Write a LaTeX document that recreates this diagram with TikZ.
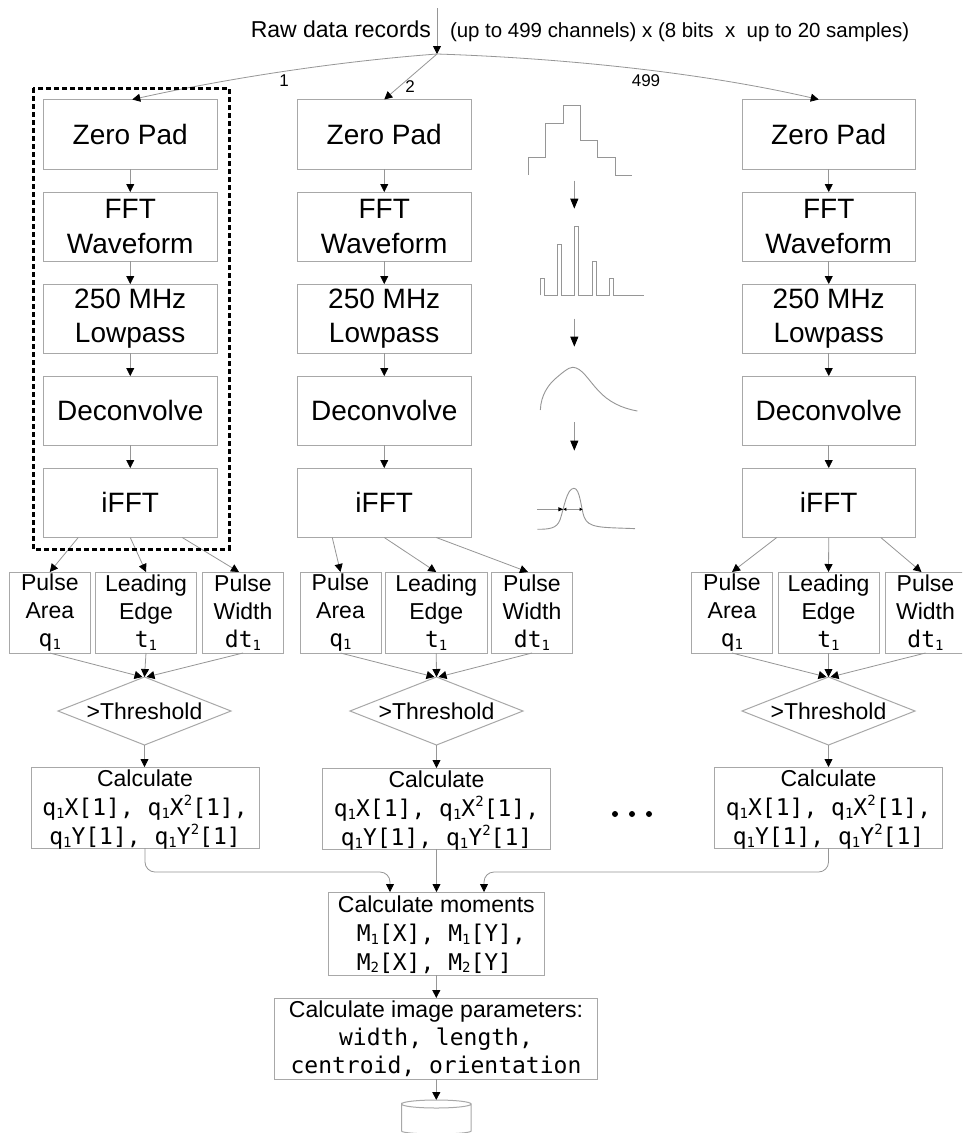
\documentclass[tikz,border=0pt]{standalone}
\usepackage{fontspec}
\setmainfont{Liberation Sans}
\setmonofont{DejaVu Sans Mono}
\usetikzlibrary{arrows.meta,shapes.geometric}
\definecolor{boxline}{HTML}{A8A8A8}
\definecolor{connline}{HTML}{969696}
\newcommand\subn[1]{\raisebox{-0.12em}{\fontsize{14}{14}\selectfont #1}}
\newcommand\supn[1]{\raisebox{0.42em}{\fontsize{14}{14}\selectfont #1}}
\tikzset{
  x=1pt,y=-1pt,
  boxstyle/.style={draw=boxline,line width=1pt,inner sep=0pt,outer sep=0pt,align=center,text=black},
  bigfont/.style={font=\fontsize{28}{34.5}\selectfont},
  midfont/.style={font=\fontsize{23}{28}\selectfont},
  calcfont/.style={font=\fontsize{23}{28.7}\selectfont,inner ysep=-4pt},
  conn/.style={draw=connline,line width=0.8pt,-{Triangle[black,length=8pt,width=8pt]}},
  wave/.style={draw=connline,line width=0.9pt},
  wavearrow/.style={draw=connline,line width=0.9pt,-{Triangle[black,length=10pt,width=8pt]}},
  testshape/.style={diamond,aspect=2.544,draw=boxline,line width=1pt,inner sep=0pt,outer sep=0pt,minimum width=173pt,minimum height=68pt,font=\fontsize{23}{28}\selectfont},
  plainlabel/.style={inner sep=0pt,outer sep=0pt,text=black},
}
% font style, name, x1, y1, x2, y2, text
\newcommand\rectnode[7]{%
  \pgfmathsetmacro\rnw{#5-#3}\pgfmathsetmacro\rnh{#6-#4}%
  \pgfmathsetmacro\rncx{(#3+#5)/2}\pgfmathsetmacro\rncy{(#4+#6)/2}%
  \node[boxstyle,#1,minimum width=\rnw pt,minimum height=\rnh pt] (#2) at (\rncx,\rncy) {#7};}
% name, big left, pa left, le left, le right, pw left, diamond centre, calc left, calc top
\newcommand\chancolumn[9]{%
  \pgfmathsetmacro\bigR{#2+173.5}\pgfmathsetmacro\paR{#3+81}\pgfmathsetmacro\pwR{#6+81}%
  \pgfmathsetmacro\calcR{#8+228}\pgfmathsetmacro\calcB{#9+81}%
  \let\cbigR\bigR \let\cpaR\paR \let\cpwR\pwR \let\ccalcR\calcR \let\ccalcB\calcB
  \rectnode{bigfont}{#1z}{#2}{99.5}{\cbigR}{169.3}{Zero Pad}
  \rectnode{bigfont}{#1f}{#2}{192}{\cbigR}{261}{FFT\\Waveform}
  \rectnode{bigfont}{#1l}{#2}{284}{\cbigR}{353}{250 MHz\\Lowpass}
  \rectnode{bigfont}{#1d}{#2}{376}{\cbigR}{445}{Deconvolve}
  \rectnode{bigfont}{#1i}{#2}{468}{\cbigR}{537.5}{iFFT}
  \rectnode{midfont}{#1pa}{#3}{572}{\cpaR}{653}{Pulse\\Area\\\texttt{q\subn{1}}}
  \rectnode{midfont}{#1le}{#4}{572}{#5}{653}{Leading\\Edge\\\texttt{t\subn{1}}}
  \rectnode{midfont}{#1pw}{#6}{572}{\cpwR}{653}{Pulse\\Width\\\texttt{dt\subn{1}}}
  \node[testshape] (#1th) at (#7,711) {>Threshold};
  \rectnode{calcfont}{#1c}{#8}{#9}{\ccalcR}{\ccalcB}{\rule{0pt}{21pt}Calculate\\\texttt{q\subn{1}X[1], q\subn{1}X\supn{2}[1],}\\\texttt{q\subn{1}Y[1], q\subn{1}Y\supn{2}[1]}}
  \draw[conn] (#1z) -- (#1f);
  \draw[conn] (#1f) -- (#1l);
  \draw[conn] (#1l) -- (#1d);
  \draw[conn] (#1d) -- (#1i);
  \draw[conn] ([xshift=-52pt]#1i.south) -- (#1pa.north);
  \draw[conn] (#1i.south) -- (#1le.north);
  \draw[conn] ([xshift=52pt]#1i.south) -- ([xshift=-4pt]#1pw.north);
  \draw[conn] (#1pa.south) -- ([xshift=-2pt]#1th.north);
  \draw[conn] (#1le.south) -- (#1th.north);
  \draw[conn] (#1pw.south) -- ([xshift=2pt]#1th.north);
  \draw[conn] (#1th.south) -- (#1c.north-|#1th.south);
}
\begin{document}
\begin{tikzpicture}
\clip (0,0) rectangle (962,1133);
\fill[white] (0,0) rectangle (962,1133);

\chancolumn{a}{43.5}{9.3}{95.5}{196.5}{202.5}{144.5}{31}{767}
\chancolumn{b}{297.5}{300}{385.5}{487}{491.5}{436.5}{322.5}{768}
\chancolumn{c}{742}{691.5}{778}{879}{885}{828.5}{714.5}{767}

% input
\coordinate (rawtop) at (437,8);
\coordinate (hub) at (437,54);
\draw[conn] (rawtop) -- (hub);
\node[plainlabel,anchor=base east,font=\fontsize{23}{28}\selectfont] (rawlabel) at (431,37.7) {Raw data records};
\node[plainlabel,anchor=base west,font=\fontsize{20.45}{24}\selectfont] (dimlabel) at (450,37.7) {(up to 499 channels) x (8 bits~~x~~up to 20 samples)};
\draw[conn] (hub) .. controls (330,62) and (220,80) .. ([xshift=2pt]az.north);
\draw[conn] (hub) -- (bz.north);
\draw[conn] (hub) .. controls (560,58) and (700,72) .. ([xshift=-10pt]cz.north);
\node[plainlabel,font=\fontsize{17}{20}\selectfont] (lab1) at (284,81) {1};
\node[plainlabel,font=\fontsize{17}{20}\selectfont] (lab2) at (410,87) {2};
\node[plainlabel,font=\fontsize{17}{20}\selectfont] (lab3) at (646,81) {499};

% dashed channel frame
\draw[black,line width=3pt,dash pattern=on 5pt off 3pt] (33,88) rectangle (229,549);

% merge
\rectnode{calcfont}{mom}{328}{892}{544.7}{975}{\rule{0pt}{19pt}Calculate moments\\\texttt{\hspace*{10pt}M\subn{1}[X], M\subn{1}[Y],}\\\texttt{\hspace*{10pt}M\subn{2}[X], M\subn{2}[Y]\phantom{,}}}
\rectnode{midfont}{img}{274.3}{998}{597.7}{1079}{Calculate image parameters:\\\texttt{width, length,}\\\texttt{centroid, orientation}}
\coordinate (elbowL) at (390,872);
\coordinate (elbowR) at (484,872);
\draw[conn,rounded corners=10pt] (ac.south) |- (elbowL) -- ([xshift=-46.35pt]mom.north);
\draw[conn] (bc.south) -- (bc.south|-mom.north);
\draw[conn,rounded corners=10pt] (cc.south) |- (elbowR) -- ([xshift=47.65pt]mom.north);
\coordinate (dbtop) at (436.3,1100);
\draw[conn] (img.south-|dbtop) -- (dbtop);
\draw[conn] (mom.south-|dbtop) -- (img.north-|dbtop);

% storage
\draw[boxline,line width=1pt] (401.5,1104) arc[start angle=180,end angle=0,x radius=34.8pt,y radius=4pt]
  arc[start angle=0,end angle=-180,x radius=34.8pt,y radius=4pt] -- (401.5,1131) arc[start angle=180,end angle=360,x radius=34.8pt,y radius=3pt] -- (471.1,1104);

% ellipsis
\fill[black] (615,814) circle[radius=3pt] (632,814) circle[radius=3pt] (649,814) circle[radius=3pt];

% waveforms (traced in zoomed coordinates)
\begin{scope}[shift={(500,80)},x=0.3333pt,y=-0.3333pt]
\draw[wave] (85,285)--(85,233)--(137,233)--(137,129)--(190,129)--(190,76)--(241,76)--(241,181)--(293,181)--(293,233)--(347,233)--(347,285)--(397,285);
\draw[wavearrow] (223,302)--(223,386);
\draw[wave] (121,646)--(121,595)--(132,595)--(132,646)--(172,646)--(172,493)--(185,493)--(185,646)--(224,646)--(224,439)--(236,439)--(236,646)--(276,646)--(276,544)--(289,544)--(289,646)--(328,646)--(328,595)--(340,595)--(340,646)--(431,646);
\draw[wavearrow] (223,716)--(223,800);
\draw[wave] (121,990) .. controls (123,945) and (145,915) .. (165,897) .. controls (185,880) and (205,862) .. (218,862) .. controls (245,862) and (265,900) .. (295,932) .. controls (325,965) and (365,985) .. (412,993);
\draw[wavearrow] (223,1027)--(223,1112);
\draw[wave] (112,1348) .. controls (150,1348) and (170,1345) .. (180,1320) .. controls (192,1285) and (200,1225) .. (222,1225) .. controls (240,1225) and (243,1285) .. (252,1310) .. controls (265,1345) and (300,1342) .. (405,1346);
\draw[wave,-{Triangle[black,length=5pt,width=4pt]}] (112,1288)--(190,1288);
\draw[wave,line width=0.7pt,{Triangle[black,length=3pt,width=3pt]}-{Triangle[black,length=3pt,width=3pt]}] (190,1288)--(248,1288);
\end{scope}
\end{tikzpicture}
\end{document}
